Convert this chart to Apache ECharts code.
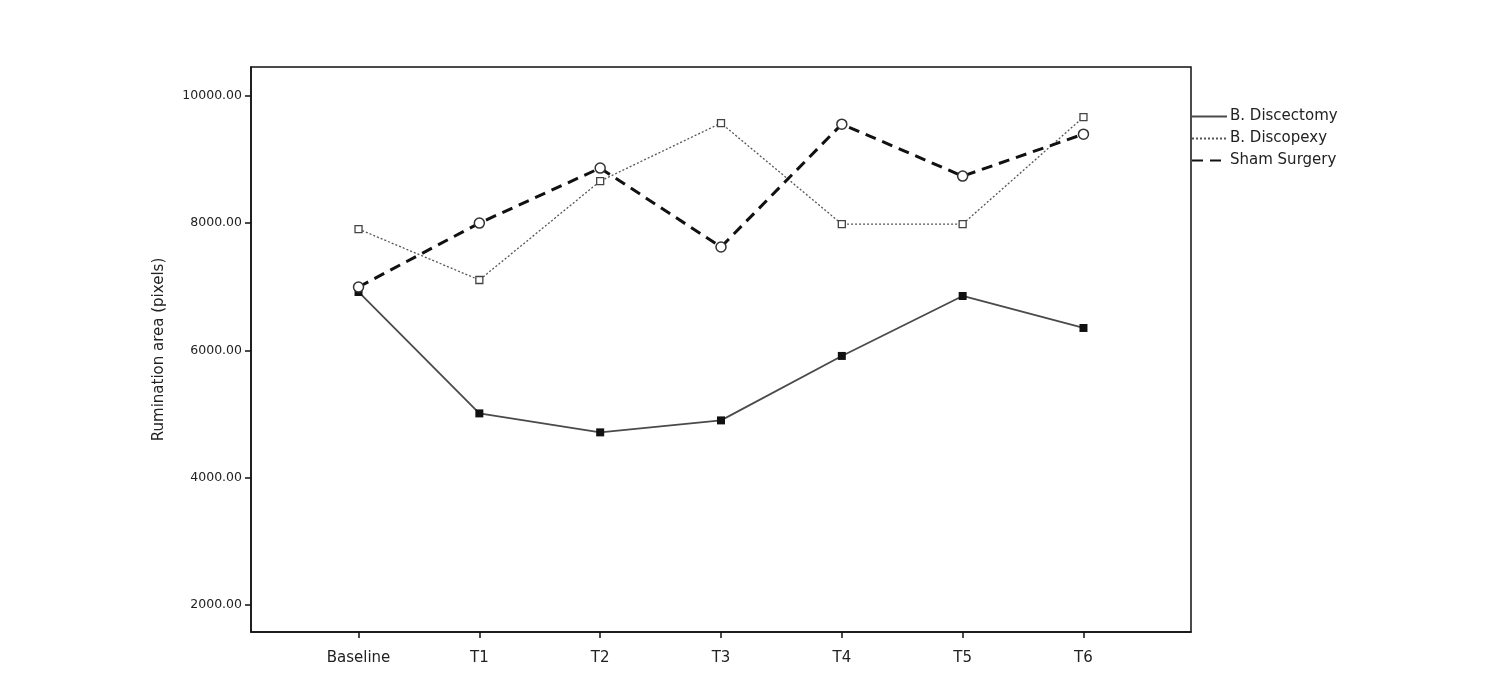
<!DOCTYPE html>
<html>
<head>
<meta charset="utf-8">
<script src="https://cdn.jsdelivr.net/npm/echarts@6/dist/echarts.min.js"></script>
<style>html,body{margin:0;padding:0;background:#fff;}#chart{width:1503px;height:692px;}</style>
</head>
<body>
<div id="chart"></div>
<script>
const categories = ['Baseline', 'T1', 'T2', 'T3', 'T4', 'T5', 'T6'];
const discectomy = [6918, 5012, 4714, 4902, 5914, 6855, 6353];
const discopexy = [7906, 7106, 8659, 9569, 7984, 7984, 9663];
const sham = [6996, 8000, 8863, 7624, 9553, 8737, 9396];
const yTicks = [2000, 4000, 6000, 8000, 10000];
const seriesNames = ['B. Discectomy', 'B. Discopexy', 'Sham Surgery'];

const toPairs = arr => arr.map((v, i) => [i, v]);
const catIdx = categories.map((c, i) => i);
const font = 'DejaVu Sans, Arial, sans-serif';

const chart = echarts.init(document.getElementById('chart'), null, {renderer: 'canvas'});
chart.setOption({
  backgroundColor: '#fff',
  animation: false,
  grid: {left: 251, right: 312, top: 67, bottom: 60, show: true, borderColor: '#111', borderWidth: 1.5, backgroundColor: 'transparent'},
  legend: {
    orient: 'vertical', left: 1186, top: 104, itemWidth: 35, itemHeight: 10, itemGap: 7,
    textStyle: {fontFamily: font, fontSize: 15, color: '#222', padding: [0, 0, 0, -2]},
    itemStyle: {opacity: 0},
    data: seriesNames
  },
  xAxis: {
    type: 'value', min: -0.89, max: 6.89,
    axisLine: {show: true, onZero: false, lineStyle: {color: '#111', width: 1.5}},
    axisTick: {show: true, length: 6, customValues: catIdx, lineStyle: {color: '#111', width: 1.5}},
    axisLabel: {customValues: catIdx, margin: 19, fontFamily: font, fontSize: 15, color: '#222',
      formatter: v => categories[Math.round(v)] || ''},
    splitLine: {show: false}
  },
  yAxis: {
    type: 'value', min: 1580, max: 10450,
    name: 'Rumination area (pixels)', nameLocation: 'middle', nameGap: 84,
    nameTextStyle: {fontFamily: font, fontSize: 15, color: '#222'},
    axisLine: {show: true, onZero: false, lineStyle: {color: '#111', width: 1.5}},
    axisTick: {show: true, length: 6, customValues: yTicks, lineStyle: {color: '#111', width: 1.5}},
    axisLabel: {customValues: yTicks, margin: 9, fontFamily: font, fontSize: 12.5, color: '#222',
      formatter: v => v.toFixed(2)},
    splitLine: {show: false}
  },
  series: [
    {
      name: seriesNames[0], type: 'line', data: toPairs(discectomy),
      symbol: 'rect', symbolSize: 8,
      lineStyle: {color: '#4a4a4a', width: 1.8, type: 'solid'},
      itemStyle: {color: '#111', borderColor: '#111', borderWidth: 0}
    },
    {
      name: seriesNames[1], type: 'line', data: toPairs(discopexy),
      symbol: 'rect', symbolSize: 7,
      lineStyle: {color: '#555', width: 1.3, type: [2, 2]},
      itemStyle: {color: '#fff', borderColor: '#444', borderWidth: 1.3}
    },
    {
      name: seriesNames[2], type: 'line', data: toPairs(sham),
      symbol: 'circle', symbolSize: 10,
      lineStyle: {color: '#111', width: 3, type: [11, 7]},
      itemStyle: {color: '#fff', borderColor: '#333', borderWidth: 1.5}
    }
  ]
});
</script>
</body>
</html>
